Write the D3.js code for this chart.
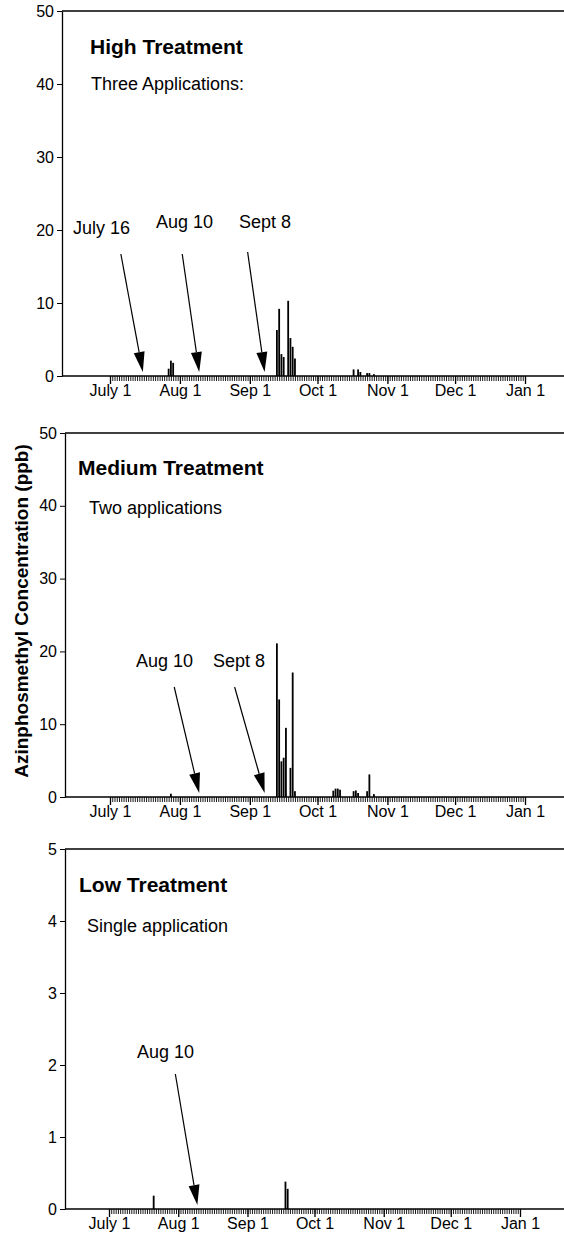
<!DOCTYPE html>
<html>
<head>
<meta charset="utf-8">
<script src="https://cdnjs.cloudflare.com/ajax/libs/d3/7.8.5/d3.min.js"></script>
<style>
  body { margin: 0; background: #fff; }
  svg { display: block; font-family: "Liberation Sans", Arial, Helvetica, sans-serif; }
</style>
</head>
<body>
<div id="chart"></div>
<script>
// month ticks on the time axis
var monthTicks = ['1998-07-01', '1998-08-01', '1998-09-01', '1998-10-01', '1998-11-01', '1998-12-01', '1999-01-01'];
var monthLabels = ['July 1', 'Aug 1', 'Sep 1', 'Oct 1', 'Nov 1', 'Dec 1', 'Jan 1'];

// high treatment, ppb
var highDates = ['1998-07-27', '1998-07-28', '1998-07-29',
                 '1998-09-13', '1998-09-14', '1998-09-15', '1998-09-16', '1998-09-18', '1998-09-19', '1998-09-20', '1998-09-21',
                 '1998-10-17', '1998-10-19', '1998-10-20', '1998-10-23', '1998-10-24', '1998-10-26'];
var highValues = [1.0, 2.1, 1.8,
                  6.3, 9.2, 3.0, 2.6, 10.3, 5.2, 4.0, 2.4,
                  0.9, 0.9, 0.55, 0.4, 0.4, 0.25];

// medium treatment, ppb
var mediumDates = ['1998-07-28',
                   '1998-09-13', '1998-09-14', '1998-09-15', '1998-09-16', '1998-09-17', '1998-09-19', '1998-09-20', '1998-09-21',
                   '1998-10-08', '1998-10-09', '1998-10-10', '1998-10-11',
                   '1998-10-17', '1998-10-18', '1998-10-19',
                   '1998-10-23', '1998-10-24', '1998-10-26'];
var mediumValues = [0.45,
                    21.1, 13.4, 4.9, 5.4, 9.5, 4.0, 17.1, 0.8,
                    0.87, 1.15, 1.15, 1.0,
                    0.8, 0.9, 0.55,
                    0.8, 3.1, 0.4];

// low treatment, ppb
var lowDates = ['1998-07-21', '1998-09-18', '1998-09-19'];
var lowValues = [0.185, 0.38, 0.28];

// application dates
var highApps = ['1998-07-16', '1998-08-10', '1998-09-08'];
var highAppLabels = ['July 16', 'Aug 10', 'Sept 8'];
var mediumApps = ['1998-08-10', '1998-09-08'];
var mediumAppLabels = ['Aug 10', 'Sept 8'];
var lowApps = ['1998-08-10'];
var lowAppLabels = ['Aug 10'];

var yTicksBig = [0, 10, 20, 30, 40, 50];
var yTicksSmall = [0, 1, 2, 3, 4, 5];

var W = 564, H = 1233;
var parse = d3.timeParse('%Y-%m-%d');

var svg = d3.select('#chart').append('svg')
    .attr('width', W).attr('height', H)
    .attr('viewBox', '0 0 ' + W + ' ' + H);

var panels = [
    { title: 'High Treatment', sub: 'Three Applications:', dates: highDates, values: highValues
    , apps: highApps, appLabels: highAppLabels, ymax: 50, yticks: yTicksBig
    , left: 62, top: 11, bottom: 376, x0: 110, x1: 525
    , titleX: 90, titleY: 54, subX: 91, subY: 90
    , arrows: [{dx: -22, dy: -118, lx: 73, ly: 234}, {dx: -17, dy: -118, lx: 156, ly: 228}, {dx: -17, dy: -120, lx: 239, ly: 228}] }
  , { title: 'Medium Treatment', sub: 'Two applications', dates: mediumDates, values: mediumValues
    , apps: mediumApps, appLabels: mediumAppLabels, ymax: 50, yticks: yTicksBig
    , left: 65, top: 433, bottom: 797, x0: 110, x1: 525
    , titleX: 78, titleY: 475, subX: 89, subY: 514
    , arrows: [{dx: -25, dy: -106, lx: 136, ly: 667}, {dx: -30, dy: -106, lx: 213, ly: 667}] }
  , { title: 'Low Treatment', sub: 'Single application', dates: lowDates, values: lowValues
    , apps: lowApps, appLabels: lowAppLabels, ymax: 5, yticks: yTicksSmall
    , left: 65, top: 849, bottom: 1209, x0: 109, x1: 520
    , titleX: 79, titleY: 892, subX: 87, subY: 932
    , arrows: [{dx: -22, dy: -131, lx: 137, ly: 1058}] }
];

panels.forEach(function(p){ drawPanel(svg, p); });

svg.append('text')
    .attr('transform', 'translate(28,611) rotate(-90)')
    .attr('text-anchor', 'middle')
    .style('font-size', '19px').style('font-weight', 'bold')
    .text('Azinphosmethyl Concentration (ppb)');

function drawPanel(svg, p){
    var x = d3.scaleTime().domain([parse(monthTicks[0]), parse(monthTicks[monthTicks.length - 1])]).range([p.x0, p.x1])
      , y = d3.scaleLinear().domain([0, p.ymax]).range([p.bottom, p.top])
      , g = svg.append('g').classed('panel', true);

    // frame top + baseline
    g.append('line').attr('x1', p.left).attr('x2', W).attr('y1', p.top).attr('y2', p.top)
        .attr('stroke', '#000').attr('stroke-width', 1.3);
    g.append('line').attr('x1', p.left).attr('x2', W).attr('y1', y(0)).attr('y2', y(0))
        .attr('stroke', '#000').attr('stroke-width', 1.3);

    // daily ticks
    var days = d3.timeDay.range(x.domain()[0], d3.timeDay.offset(x.domain()[1], 1));
    g.append('g').attr('transform', 'translate(0,' + y(0) + ')')
        .call(d3.axisBottom(x).tickValues(days).tickSize(5).tickSizeOuter(0).tickFormat(''))
        .call(function(s){ s.select('.domain').remove(); s.selectAll('line').attr('stroke-width', 0.9); });

    // month ticks + labels
    g.append('g').attr('transform', 'translate(0,' + y(0) + ')')
        .call(d3.axisBottom(x).tickValues(monthTicks.map(parse)).tickSize(8).tickSizeOuter(0).tickPadding(1)
              .tickFormat(function(d, i){ return monthLabels[i]; }))
        .call(function(s){
            s.select('.domain').remove();
            s.selectAll('line').attr('stroke-width', 1.3);
            s.selectAll('text').style('font-size', '16px').attr('fill', '#000');
        });

    // y axis
    g.append('g').attr('transform', 'translate(' + p.left + ',0)')
        .call(d3.axisLeft(y).tickValues(p.yticks).tickSize(5).tickSizeOuter(0).tickPadding(3).tickFormat(d3.format('d')))
        .call(function(s){
            s.select('.domain').attr('stroke-width', 1.3);
            s.selectAll('text').style('font-size', '16px').attr('fill', '#000');
        });

    // bars
    var bw = 1.8;
    g.append('g').classed('bars', true).selectAll('rect')
        .data(p.dates.map(function(d, i){ return {date: parse(d), value: p.values[i]}; }))
        .enter().append('rect')
        .attr('x', function(d){ return x(d.date) - bw / 2; })
        .attr('y', function(d){ return y(d.value); })
        .attr('width', bw)
        .attr('height', function(d){ return y(0) - y(d.value); })
        .attr('fill', '#000');

    // titles
    g.append('text').attr('x', p.titleX).attr('y', p.titleY)
        .style('font-size', '21px').style('font-weight', 'bold').text(p.title);
    g.append('text').attr('x', p.subX).attr('y', p.subY)
        .style('font-size', '18px').text(p.sub);

    // application arrows
    p.apps.forEach(function(a, i){
        var o = p.arrows[i]
          , tx = x(parse(a)) - 1
          , ty = y(0) - 4
          , sx = tx + o.dx
          , sy = ty + o.dy
          , len = Math.sqrt(o.dx * o.dx + o.dy * o.dy)
          , ux = -o.dx / len, uy = -o.dy / len
          , hl = 20, hw = 5.5
          , bx = tx - ux * hl, by = ty - uy * hl;

        g.append('line').attr('x1', sx).attr('y1', sy).attr('x2', bx).attr('y2', by)
            .attr('stroke', '#000').attr('stroke-width', 1.2);
        g.append('path')
            .attr('d', 'M' + tx + ',' + ty + 'L' + (bx - uy * hw) + ',' + (by + ux * hw)
                     + 'L' + (bx + uy * hw) + ',' + (by - ux * hw) + 'Z')
            .attr('fill', '#000');
        g.append('text').attr('x', o.lx).attr('y', o.ly)
            .style('font-size', '18px').text(p.appLabels[i]);
    });
}
</script>
</body>
</html>
